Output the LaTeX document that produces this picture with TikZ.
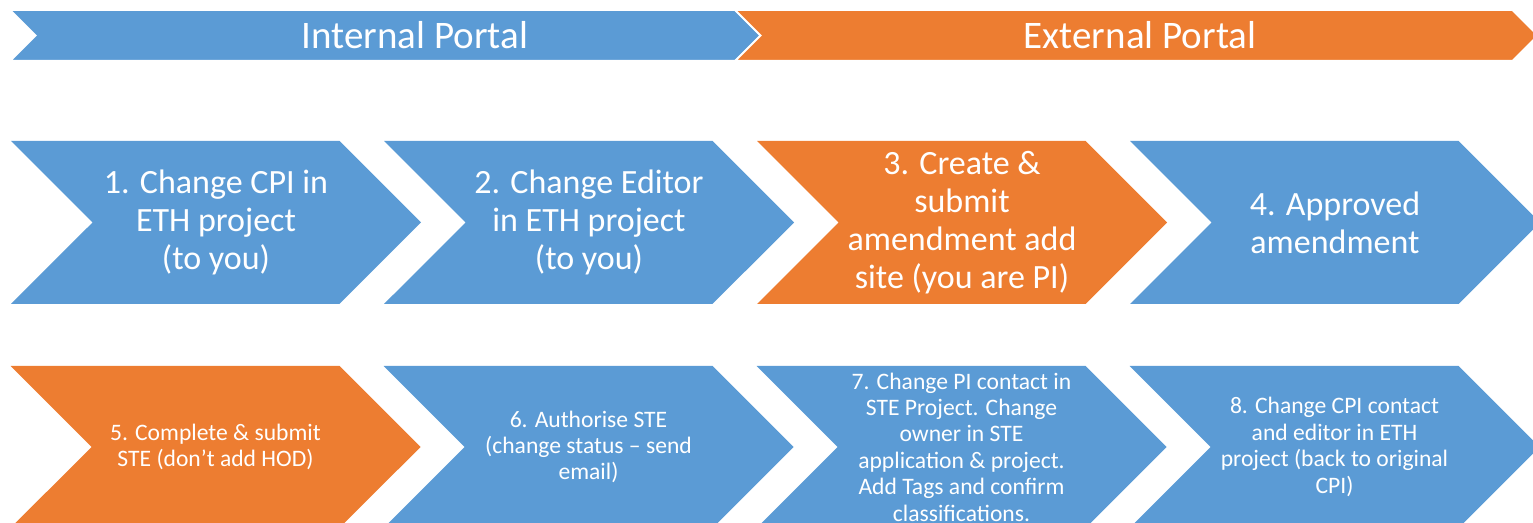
\documentclass[tikz,border=0pt]{standalone}
\usepackage{fontspec}
\setmainfont{Carlito}
\usepackage{tikz}
\usetikzlibrary{shapes.symbols, positioning}
\definecolor{portalblue}{HTML}{5B9BD5}
\definecolor{portalorange}{HTML}{ED7D31}

\begin{document}
\begin{tikzpicture}[
        x=0.5pt, y=-0.5pt,
        chevron/.style={signal, signal to=east, signal from=west,
                        signal pointer angle=90, inner sep=0pt,
                        minimum width=205pt, align=center, text=white},
        bigstep/.style={chevron, minimum height=81.5pt,
                        font=\fontsize{17}{19}\selectfont},
        smallstep/.style={chevron, minimum height=81pt,
                          font=\fontsize{11.8}{13.2}\selectfont},
        banner/.style={signal, signal to=east, signal from=west,
                       signal pointer angle=90, inner sep=0pt,
                       minimum height=25.5pt, draw=white, line width=1pt},
        bannertext/.style={text=white, font=\fontsize{19.5}{22}\selectfont}
    ]
      \useasboundingbox (0,0) rectangle (1533,523);
      \clip (0,0) rectangle (1533,523);

      % --- Portal banners ---
      \node[banner, fill=portalblue, minimum width=375.5pt] (internal) at (385.5, 35.5) {};
      \node[banner, fill=portalorange, minimum width=401.5pt] (external) at (1136.5, 35.5) {};
      \node[bannertext] (internallabel) at (415, 35.5) {Internal Portal};
      \node[bannertext] (externallabel) at (1140, 35.5) {External Portal};

      % --- Main steps ---
      \node[bigstep, fill=portalblue] (s1) at (216, 222.5) {1. Change CPI in\\ETH project\\(to you)};
      \node[bigstep, fill=portalblue] (s2) at (589, 222.5) {2. Change Editor\\in ETH project\\(to you)};
      \node[bigstep, fill=portalorange] (s3) at (962, 222.5) {3. Create \&\\submit\\amendment add\\site (you are PI)};
      \node[bigstep, fill=portalblue] (s4) at (1335, 222.5) {4. Approved\\amendment};

      % --- Follow-up steps ---
      \node[smallstep, fill=portalorange] (s5) at (215.5, 447) {5. Complete \& submit\\STE (don’t add HOD)};
      \node[smallstep, fill=portalblue] (s6) at (588.5, 447) {6. Authorise STE\\(change status – send\\email)};
      \node[smallstep, fill=portalblue] (s7) at (961.5, 447) {7. Change PI contact in\\STE Project. Change\\owner in STE\\application \& project.\\Add Tags and confirm\\classifications.};
      \node[smallstep, fill=portalblue] (s8) at (1334.5, 447) {8. Change CPI contact\\and editor in ETH\\project (back to original\\CPI)};
    \end{tikzpicture}
\end{document}
